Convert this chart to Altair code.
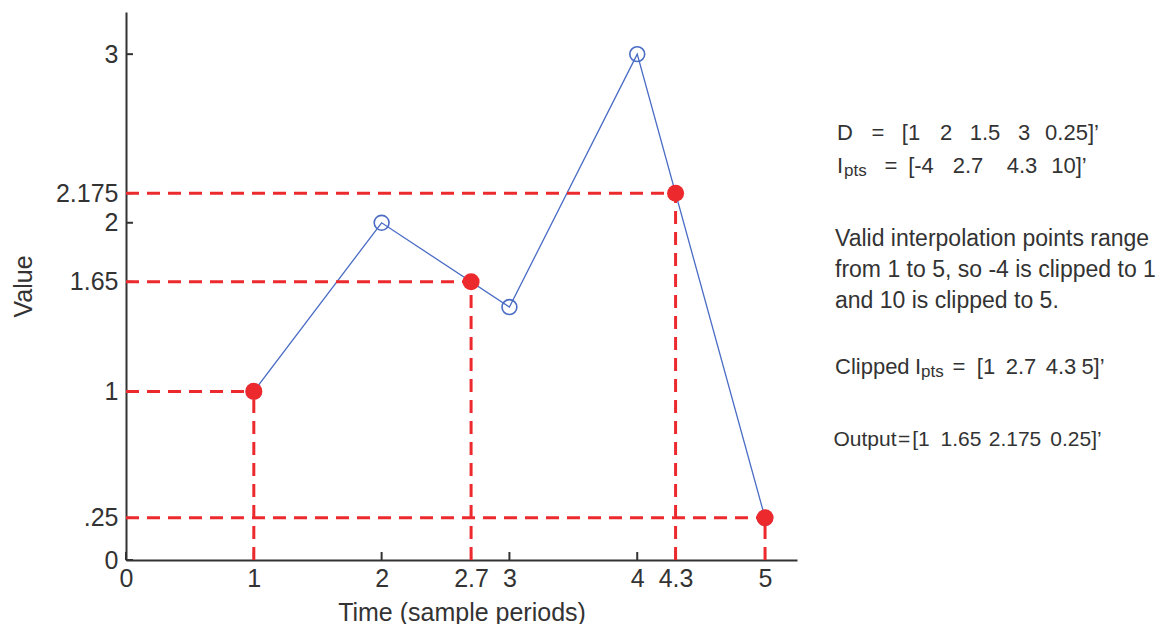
import altair as alt
import pandas as pd

# ---- data ----
d_x = [1, 2, 3, 4, 5]
d_y = [1, 2, 1.5, 3, 0.25]
out_x = [1, 2.7, 4.3, 5]
out_y = [1, 1.65, 2.175, 0.25]
x_ticks = [0, 1, 2, 2.7, 3, 4, 4.3, 5]
y_ticks = [0, 0.25, 1, 1.65, 2, 2.175, 3]
x_domain = [0, 5.25]
y_domain = [0, 3.25]
x_title = "Time (sample periods)"
y_title = "Value"

# ---- style ----
W, H = 671, 548
PAD_L, PAD_T = 118, 4
FONT = "Liberation Sans"
TXT = "#333333"
RED = "#ec2a2e"
BLUE = "#4a6cc4"

d_df = pd.DataFrame({"x": d_x, "y": d_y})
o_df = pd.DataFrame({"x": out_x, "y": out_y, "zero": [0] * len(out_x)})
xt_df = pd.DataFrame({"v": x_ticks})
yt_df = pd.DataFrame({"v": y_ticks})

xs = alt.Scale(domain=x_domain, nice=False, zero=False)
ys = alt.Scale(domain=y_domain, nice=False, zero=False)

x_axis = alt.Axis(
    values=x_ticks, labelExpr="'' + datum.value", title=x_title,
    ticks=False, grid=False, domainColor=TXT, domainWidth=2,
    labelFont=FONT, labelFontSize=25, labelColor=TXT, labelPadding=6,
    labelOverlap=False, labelFlush=False,
    titleFont=FONT, titleFontSize=25, titleColor=TXT, titleFontWeight="normal",
    titleBaseline="alphabetic", titleY=60, titleX=W / 2, titleAlign="center",
)
y_axis = alt.Axis(
    values=y_ticks, labelExpr="datum.value == 0.25 ? '.25' : '' + datum.value",
    title=y_title, ticks=False, grid=False, domainColor=TXT,
    domainWidth=2, labelFont=FONT, labelFontSize=25, labelColor=TXT,
    labelPadding=8, labelOverlap=False, labelFlush=False, labelBaseline="middle",
    titleFont=FONT, titleFontSize=25, titleColor=TXT, titleFontWeight="normal",
    titleBaseline="alphabetic", titleX=-95, titleY=H / 2, titleAngle=270,
    titleAlign="center",
)


def X(f):
    return alt.X(f, scale=xs, axis=x_axis)


def Y(f):
    return alt.Y(f, scale=ys, axis=y_axis)


line = alt.Chart(d_df).mark_line(color=BLUE, strokeWidth=1.3).encode(
    x=X("x:Q"), y=Y("y:Q"),
)
circles = alt.Chart(d_df).mark_point(
    shape="circle", filled=False, color=BLUE, size=220, strokeWidth=1.6, opacity=1
).encode(x=X("x:Q"), y=Y("y:Q"))

# inward tick marks
yticks = alt.Chart(yt_df).mark_rule(color=TXT, strokeWidth=2).encode(
    y=Y("v:Q"), x=alt.value(0), x2=alt.value(7),
)
xticks = alt.Chart(xt_df).mark_rule(color=TXT, strokeWidth=2).encode(
    x=X("v:Q"), y=alt.value(H), y2=alt.value(H - 8),
)

hdash = alt.Chart(o_df).mark_rule(color=RED, strokeWidth=3, strokeDash=[13, 8]).encode(
    x=X("zero:Q"), x2="x:Q", y=Y("y:Q"),
)
vdash = alt.Chart(o_df).mark_rule(color=RED, strokeWidth=3, strokeDash=[13, 8]).encode(
    x=X("x:Q"), y=Y("zero:Q"), y2="y:Q",
)
dots = alt.Chart(o_df).mark_circle(color=RED, size=290, opacity=1).encode(
    x=X("x:Q"), y=Y("y:Q"),
)


def txt(s, px, py, size=22, align="left"):
    """Annotation text at page pixel position (px, py), baseline anchored."""
    return alt.Chart(pd.DataFrame({"t": [s]})).mark_text(
        align=align, baseline="alphabetic", font=FONT, fontSize=size, color=TXT
    ).encode(text="t:N", x=alt.value(px - 126), y=alt.value(py - 12))


notes = []
# line 1: D = [1 2 1.5 3 0.25]'
for s, c in [("D", 845), ("=", 878), ("[1", 911), ("2", 946), ("1.5", 985),
             ("3", 1024), ("0.25]\u2019", 1072)]:
    notes.append(txt(s, c, 140, align="center"))
# line 2: Ipts = [-4 2.7 4.3 10]'
notes.append(txt("I", 837, 173))
notes.append(txt("pts", 844, 176, size=17))
for s, c in [("=", 891), ("[-4", 921), ("2.7", 968), ("4.3", 1022), ("10]\u2019", 1069)]:
    notes.append(txt(s, c, 173, align="center"))
# paragraph
notes.append(txt("Valid interpolation points range", 835, 246, size=23))
notes.append(txt("from 1 to 5, so -4 is clipped to 1", 835, 277, size=23))
notes.append(txt("and 10 is clipped to 5.", 835, 308, size=23))
# Clipped Ipts = [1 2.7 4.3 5]'
notes.append(txt("Clipped", 835, 374))
notes.append(txt("I", 915, 374))
notes.append(txt("pts", 921, 377, size=17))
for s, c in [("=", 959), ("[1", 986), ("2.7", 1021), ("4.3", 1061), ("5]\u2019", 1093)]:
    notes.append(txt(s, c, 374, align="center"))
# Output = [1 1.65 2.175 0.25]'
for s, c in [("Output", 865), ("=", 904), ("[1", 921), ("1.65", 961),
             ("2.175", 1015), ("0.25]\u2019", 1076)]:
    notes.append(txt(s, c, 446, size=21, align="center"))

chart = alt.layer(
    line, circles, yticks, xticks, hdash, vdash, dots, *notes
).properties(
    width=W, height=H,
    autosize=alt.AutoSizeParams(type="none"),
    padding={"left": PAD_L, "top": PAD_T, "right": 370, "bottom": 64},
).configure_view(strokeWidth=0)

chart.save("out.html", embed_options={"renderer": "svg", "actions": False})
